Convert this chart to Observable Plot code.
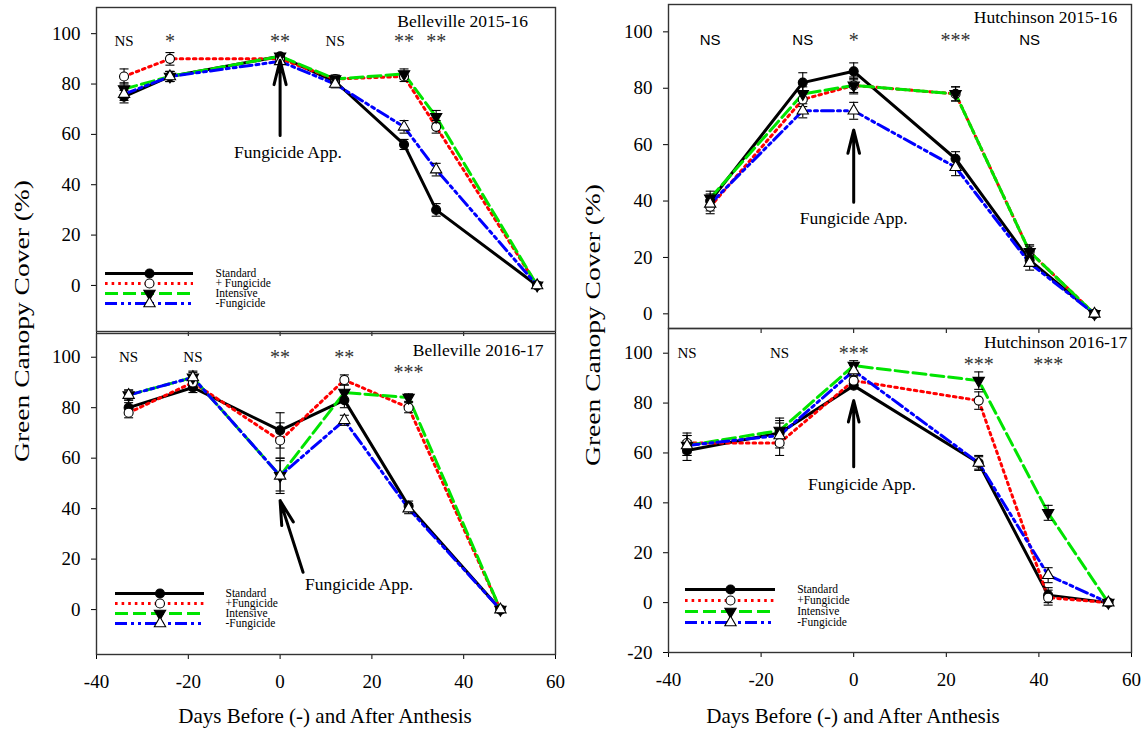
<!DOCTYPE html>
<html><head><meta charset="utf-8">
<script src="https://cdn.jsdelivr.net/npm/d3@7"></script>
<script src="https://cdn.jsdelivr.net/npm/@observablehq/plot@0.6"></script>
<style>
html,body{margin:0;padding:0;background:#fff;}
#wrap{position:relative;width:1146px;height:732px;overflow:hidden;background:#fff;font-family:"Liberation Serif","Times New Roman",serif;color:#000;}
#wrap .panel{position:absolute;left:0;top:0;}
#wrap .legend{position:absolute;}
.axtitle{position:absolute;white-space:nowrap;font-size:21px;line-height:1;transform:translate(-50%,-50%);}
.axtitle.rot{font-size:22px;transform:translate(-50%,-50%) rotate(-90deg) scaleX(1.25);}
</style></head><body><div id="wrap"></div>
<script>
// ================= DATA =================
const seriesKeys = ["Standard", "PlusFungicide", "Intensive", "MinusFungicide"];
const legendLabelsA = ["Standard", "+ Fungicide", "Intensive", "-Fungicide"];
const legendLabelsB = ["Standard", "+Fungicide", "Intensive", "-Fungicide"];
const xTicks = [-40, -20, 0, 20, 40, 60];
const yTicks = [0, 20, 40, 60, 80, 100];
const yTicksNeg = [-20, 0, 20, 40, 60, 80, 100];

// Belleville 2015-16
const bel1516Days = [-34, -24, 0, 12, 27, 34, 56];
const bel1516Standard = [75, 83, 91, 81, 56, 30, 0];
const bel1516PlusFung = [83, 90, 90, 82, 83, 63, 0];
const bel1516Intensive = [78, 83, 91, 82, 84, 67, 0];
const bel1516MinusFung = [76, 83, 89, 80, 63, 46, 0];
const bel1516StandardSE = [2.5, 2, 1, 2, 2, 2.5, 0];
const bel1516PlusFungSE = [3, 2.5, 1, 1.5, 2, 2.5, 0];
const bel1516IntensiveSE = [2.5, 2, 1, 1.5, 2, 2.5, 0];
const bel1516MinusFungSE = [2.5, 2, 1, 1.5, 2.5, 2.5, 0];
const bel1516SigDays = [-34, -24, 0, 12, 27, 34];
const bel1516SigText = ["NS", "*", "**", "NS", "**", "**"];
const bel1516SigLevel = [97, 97, 97, 97, 97, 97];

// Hutchinson 2015-16
const hut1516Days = [-31, -11, 0, 22, 38, 52];
const hut1516Standard = [40, 82, 86, 55, 19, 0];
const hut1516PlusFung = [38, 76, 81, 78, 22, 0];
const hut1516Intensive = [41, 78, 81, 78, 22, 0];
const hut1516MinusFung = [39, 72, 72, 52, 18, 0];
const hut1516StandardSE = [2.5, 3.5, 3, 2.5, 2, 0];
const hut1516PlusFungSE = [2.5, 2.5, 3, 2.5, 2, 0];
const hut1516IntensiveSE = [2.5, 2.5, 2.5, 2.5, 2.5, 0];
const hut1516MinusFungSE = [2.5, 2.5, 3, 3, 2.5, 0];
const hut1516SigDays = [-31, -11, 0, 22, 38];
const hut1516SigText = ["NS", "NS", "*", "***", "NS"];
const hut1516SigLevel = [97, 97, 97, 97, 97];

// Belleville 2016-17
const bel1617Days = [-33, -19, 0, 14, 28, 48];
const bel1617Standard = [80, 88, 71, 83, 41, 0];
const bel1617PlusFung = [78, 90, 67, 91, 80, 0];
const bel1617Intensive = [85, 92, 53, 86, 84, 0];
const bel1617MinusFung = [85, 92, 53, 75, 40, 0];
const bel1617StandardSE = [2, 2, 7, 3, 2, 0];
const bel1617PlusFungSE = [2, 2, 7, 2, 2, 0];
const bel1617IntensiveSE = [2, 2.5, 7, 3, 1.5, 0];
const bel1617MinusFungSE = [2, 2, 6, 2, 2, 0];
const bel1617SigDays = [-33, -19, 0, 14, 28];
const bel1617SigText = ["NS", "NS", "**", "**", "***"];
const bel1617SigLevel = [100, 100, 100, 100, 94];

// Hutchinson 2016-17
const hut1617Days = [-36, -16, 0, 27, 42, 55];
const hut1617Standard = [61, 68, 87, 56, 3, 0];
const hut1617PlusFung = [64, 64, 89, 81, 2, 0];
const hut1617Intensive = [63, 69, 95, 89, 36, 0];
const hut1617MinusFung = [63, 67, 93, 56, 11, 0];
const hut1617StandardSE = [4, 5, 1, 2.5, 3, 0];
const hut1617PlusFungSE = [4, 5, 1.5, 3.5, 3, 0];
const hut1617IntensiveSE = [4, 5, 2, 3.5, 3, 0];
const hut1617MinusFungSE = [4, 5, 2, 3, 3, 0];
const hut1617SigDays = [-36, -16, 0, 27, 42];
const hut1617SigText = ["NS", "NS", "***", "***", "***"];
const hut1617SigLevel = [100, 100, 100, 95.5, 95.5];

// ================= STYLE =================
const serif = '"Liberation Serif","Times New Roman",serif';
const sans = '"Liberation Sans",Arial,sans-serif';
const W = 1146, H = 732;
const stroke = {Standard: "#000000", PlusFungicide: "#ff0000", Intensive: "#00e400", MinusFungicide: "#0000ff"};
const dash = {Standard: null, PlusFungicide: "2.6,4", Intensive: "13,5", MinusFungicide: "12,4,3,4,3,4"};
const triangleDown = {draw(c, size) {const y = -Math.sqrt(size / (3 * Math.sqrt(3))); c.moveTo(0, -2 * y); c.lineTo(-Math.sqrt(3) * y, y); c.lineTo(Math.sqrt(3) * y, y); c.closePath();}};
const capSym = {draw(c, size) {const w = Math.sqrt(size / Math.PI); c.moveTo(-w, 0); c.lineTo(w, 0);}};
const marker = {
  Standard: {symbol: "circle", fill: "#000", r: 4.5},
  PlusFungicide: {symbol: "circle", fill: "#fff", r: 4.5},
  Intensive: {symbol: triangleDown, fill: "#000", r: 4.2},
  MinusFungicide: {symbol: "triangle", fill: "#fff", r: 4.2}
};

function makeRows(days, vals, ses) {
  const rows = [];
  seriesKeys.forEach((k, j) => days.forEach((d, i) => rows.push({series: k, day: d, value: vals[j][i], se: ses[j][i]})));
  return rows;
}
function sigRows(days, text, level) { return days.map((d, i) => ({day: d, label: text[i], level: level[i]})); }

function panel(cfg) {
  const rows = makeRows(cfg.days, cfg.vals, cfg.ses);
  const err = rows.filter(r => r.se > 0);
  const sig = sigRows(cfg.sigDays, cfg.sigText, cfg.sigLevel);
  const marks = [Plot.frame({stroke: "#333", strokeWidth: 1.4})];
  for (const k of seriesKeys) {
    marks.push(Plot.line(rows.filter(r => r.series === k), {x: "day", y: "value", stroke: stroke[k], strokeWidth: 3, strokeDasharray: dash[k]}));
  }
  marks.push(Plot.ruleX(err, {x: "day", y1: d => d.value - d.se, y2: d => d.value + d.se, stroke: "#000", strokeWidth: 1.1}));
  marks.push(Plot.dot(err, {x: "day", y: d => d.value - d.se, symbol: capSym, r: 4.5, fill: "none", stroke: "#000", strokeWidth: 1.1}));
  marks.push(Plot.dot(err, {x: "day", y: d => d.value + d.se, symbol: capSym, r: 4.5, fill: "none", stroke: "#000", strokeWidth: 1.1}));
  for (const k of seriesKeys) {
    const m = marker[k];
    marks.push(Plot.dot(rows.filter(r => r.series === k), {x: "day", y: "value", symbol: m.symbol, r: m.r, fill: m.fill, stroke: "#000", strokeWidth: 1.1}));
  }
  marks.push(Plot.text(sig.filter(s => s.label === "NS"), {x: "day", y: "level", text: "label", fontSize: 15, fontFamily: cfg.nsFont, fill: "#000"}));
  marks.push(Plot.text(sig.filter(s => s.label !== "NS"), {x: "day", y: "level", text: "label", fontSize: 20, fontFamily: serif, fill: "#333"}));
  marks.push(Plot.text([cfg.title], {x: "x", y: "y", text: "label", textAnchor: "end", fontSize: 17.5, fontFamily: serif, fill: "#000"}));
  marks.push(Plot.arrow([cfg.arrow], {x1: "x1", y1: "y1", x2: "x2", y2: "y2", stroke: "#000", strokeWidth: 3, headLength: 16, headAngle: 28}));
  marks.push(Plot.text([cfg.app], {x: "x", y: "y", text: "label", fontSize: 17.5, fontFamily: serif, fill: "#000"}));
  const el = Plot.plot({
    width: W, height: H,
    marginLeft: cfg.frame[0], marginRight: W - cfg.frame[1], marginTop: cfg.frame[2], marginBottom: H - cfg.frame[3],
    style: {background: "transparent", fontFamily: serif, fontSize: "19px", color: "#000", overflow: "visible"},
    x: {domain: [-40, 60], ticks: xTicks, tickSize: 5, tickPadding: 15, tickFormat: cfg.xLabels ? (d => String(d)) : (() => ""), label: null},
    y: {domain: cfg.yDomain, ticks: cfg.yTicks, tickSize: 5, tickPadding: 11, tickFormat: d => String(d), label: null},
    marks
  });
  el.classList.add("panel");
  return el;
}

function legend(labels, left, firstRow, gap, len, textGap) {
  const pad = 8;
  const rows = seriesKeys.map((k, i) => ({key: k, label: labels[i]}));
  const marks = [];
  for (const r of rows) {
    marks.push(Plot.ruleY([r], {y: "key", x1: () => 0, x2: () => 1, stroke: stroke[r.key], strokeWidth: 3.2, strokeDasharray: dash[r.key]}));
    const m = marker[r.key];
    marks.push(Plot.dot([r], {x: () => 0.5, y: "key", symbol: m.symbol, r: m.r, fill: m.fill, stroke: "#000", strokeWidth: 1.1}));
  }
  marks.push(Plot.text(rows, {x: () => 1, y: "key", text: "label", dx: textGap, textAnchor: "start", fontSize: 11.5, fontFamily: serif, fill: "#000"}));
  const el = Plot.plot({
    width: len + textGap + 80, height: gap * 3 + pad * 2, margin: 0,
    style: {background: "transparent", overflow: "visible"},
    x: {domain: [0, 1], range: [0, len], axis: null},
    y: {type: "point", domain: seriesKeys, range: [pad, pad + gap * 3], axis: null},
    marks
  });
  const div = document.createElement("div");
  div.className = "legend";
  div.style.left = left + "px";
  div.style.top = (firstRow - pad) + "px";
  div.appendChild(el);
  return div;
}

const wrap = document.getElementById("wrap");

wrap.appendChild(panel({
  days: bel1516Days,
  vals: [bel1516Standard, bel1516PlusFung, bel1516Intensive, bel1516MinusFung],
  ses: [bel1516StandardSE, bel1516PlusFungSE, bel1516IntensiveSE, bel1516MinusFungSE],
  sigDays: bel1516SigDays, sigText: bel1516SigText, sigLevel: bel1516SigLevel, nsFont: serif,
  title: {x: 54, y: 105, label: "Belleville 2015-16"},
  arrow: {x1: 0, y1: 59.6, x2: 0, y2: 89.4},
  app: {x: 1.7, y: 52.8, label: "Fungicide App."},
  frame: [96, 555, 7, 331], yDomain: [-18.3, 110.4], yTicks: yTicks, xLabels: false
}));
wrap.appendChild(panel({
  days: hut1516Days,
  vals: [hut1516Standard, hut1516PlusFung, hut1516Intensive, hut1516MinusFung],
  ses: [hut1516StandardSE, hut1516PlusFungSE, hut1516IntensiveSE, hut1516MinusFungSE],
  sigDays: hut1516SigDays, sigText: hut1516SigText, sigLevel: hut1516SigLevel, nsFont: sans,
  title: {x: 56.9, y: 105, label: "Hutchinson 2015-16"},
  arrow: {x1: 0, y1: 39.6, x2: 0, y2: 65.2},
  app: {x: 0, y: 33.7, label: "Fungicide App."},
  frame: [668, 1131, 4, 328], yDomain: [-5.2, 109.7], yTicks: yTicks, xLabels: false
}));
wrap.appendChild(panel({
  days: bel1617Days,
  vals: [bel1617Standard, bel1617PlusFung, bel1617Intensive, bel1617MinusFung],
  ses: [bel1617StandardSE, bel1617PlusFungSE, bel1617IntensiveSE, bel1617MinusFungSE],
  sigDays: bel1617SigDays, sigText: bel1617SigText, sigLevel: bel1617SigLevel, nsFont: serif,
  title: {x: 57.4, y: 102.9, label: "Belleville 2016-17"},
  arrow: {x1: 5.0, y1: 14.8, x2: 0, y2: 43.2},
  app: {x: 17.2, y: 9.8, label: "Fungicide App."},
  frame: [96, 555, 333, 654], yDomain: [-17.8, 109.4], yTicks: yTicks, xLabels: true
}));
wrap.appendChild(panel({
  days: hut1617Days,
  vals: [hut1617Standard, hut1617PlusFung, hut1617Intensive, hut1617MinusFung],
  ses: [hut1617StandardSE, hut1617PlusFungSE, hut1617IntensiveSE, hut1617MinusFungSE],
  sigDays: hut1617SigDays, sigText: hut1617SigText, sigLevel: hut1617SigLevel, nsFont: serif,
  title: {x: 59.1, y: 104.2, label: "Hutchinson 2016-17"},
  arrow: {x1: 0, y1: 54.5, x2: 0, y2: 81},
  app: {x: 1.8, y: 47.5, label: "Fungicide App."},
  frame: [668, 1131, 328, 652], yDomain: [-20, 109.9], yTicks: yTicksNeg, xLabels: true
}));

wrap.appendChild(legend(legendLabelsA, 105, 265.5, 14.4, 88, 22));
wrap.appendChild(legend(legendLabelsB, 115, 585.5, 14.6, 89, 21));
wrap.appendChild(legend(legendLabelsB, 685, 583, 14.7, 90, 21.7));

function axTitle(text, x, y, rot) {
  const d = document.createElement("div");
  d.className = "axtitle" + (rot ? " rot" : "");
  d.textContent = text;
  d.style.left = x + "px";
  d.style.top = y + "px";
  wrap.appendChild(d);
}
axTitle("Green Canopy Cover (%)", 22, 321, true);
axTitle("Green Canopy Cover (%)", 593, 325, true);
axTitle("Days Before (-) and After Anthesis", 325, 716, false);
axTitle("Days Before (-) and After Anthesis", 853, 716, false);
</script></body></html>
